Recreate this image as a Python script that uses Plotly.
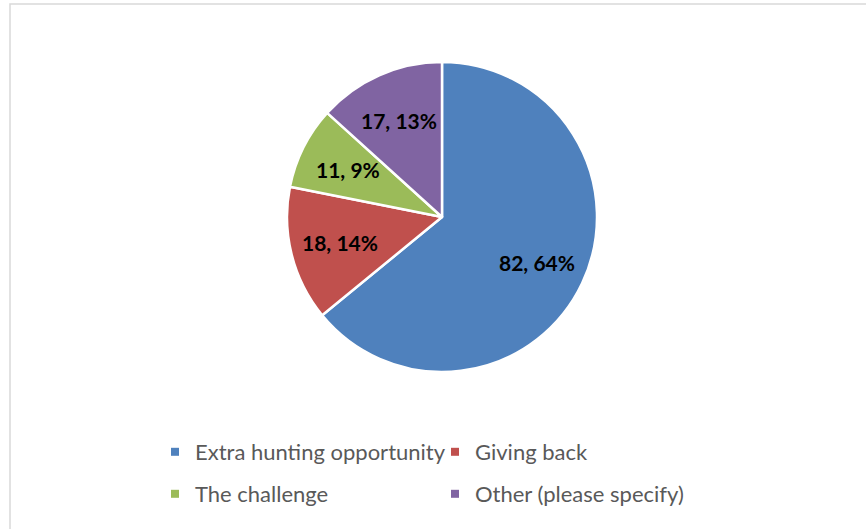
import math
import plotly.graph_objects as go

categories = ["Extra hunting opportunity", "Giving back", "The challenge", "Other (please specify)"]
values = [82, 18, 11, 17]
colors = ["#4F81BD", "#C0504D", "#9BBB59", "#8064A2"]

W, H = 866, 529
FONT = "Lato, 'Open Sans', sans-serif"

# pie domain (paper coords, margins are zero)
dom_x = [287 / W, 597 / W]
dom_y = [1 - 372 / H, 1 - 62 / H]

fig = go.Figure()
fig.add_trace(go.Pie(
    labels=categories, values=values, sort=False, direction="clockwise", rotation=0,
    marker=dict(colors=colors, line=dict(color="white", width=2.5)),
    textinfo="none",
    domain=dict(x=dom_x, y=dom_y),
    showlegend=False, hoverinfo="label+value+percent",
))

# data labels "value, percent" placed along each slice bisector
total = sum(values)
cx = (dom_x[0] + dom_x[1]) / 2
cy = (dom_y[0] + dom_y[1]) / 2
R_px = min((dom_x[1] - dom_x[0]) * W, (dom_y[1] - dom_y[0]) * H) / 2
annotations = []
cum = 0
for v in values:
    mid = (cum + v / 2) / total * 2 * math.pi
    cum += v
    r = 0.68 * R_px
    ax = cx + r * math.sin(mid) / W
    ay = cy + r * math.cos(mid) / H
    annotations.append(dict(
        x=ax, y=ay, xref="paper", yref="paper", showarrow=False,
        text=f"<b>{v}, {round(100 * v / total)}%</b>",
        font=dict(family=FONT, size=21, color="black"),
        xanchor="center", yanchor="middle",
    ))

legend_names = ["legend", "legend", "legend2", "legend2"]
for name, col, lg in zip(categories, colors, legend_names):
    fig.add_trace(go.Scatter(
        x=[None], y=[None], mode="markers", name=name, legend=lg,
        marker=dict(symbol="square", size=8, color=col),
    ))

legend_common = dict(
    orientation="h", xanchor="left", yanchor="middle",
    font=dict(family=FONT, size=22, color="#595959"),
    entrywidth=235, entrywidthmode="pixels", bgcolor="rgba(0,0,0,0)",
)
fig.update_layout(
    width=W, height=H, margin=dict(l=0, r=0, t=0, b=0),
    paper_bgcolor="white", plot_bgcolor="white",
    xaxis=dict(visible=False), yaxis=dict(visible=False),
    legend=dict(x=155 / W, y=1 - 452 / H, **legend_common),
    legend2=dict(x=155 / W, y=1 - 494 / H, **legend_common),
    annotations=annotations,
    shapes=[dict(type="rect", xref="paper", yref="paper",
                 x0=10 / W, x1=1.02, y0=-0.02, y1=1 - 4 / H,
                 line=dict(color="#D9D9D9", width=1.5), fillcolor="rgba(0,0,0,0)",
                 layer="below")],
)
fig.write_html("out.html", config={"displayModeBar": False},
               post_script="document.body.style.margin='0';")
